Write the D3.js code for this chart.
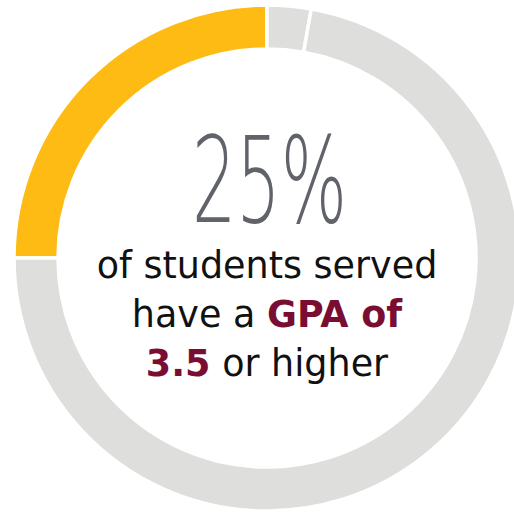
<!DOCTYPE html>
<html>
<head>
<meta charset="utf-8">
<script src="https://cdn.jsdelivr.net/npm/d3@7"></script>
<style>
  body { margin: 0; background: #fff; }
  svg { display: block; }
</style>
</head>
<body>
<svg id="main_svg_container" width="514" height="512"></svg>
<script>
// segments of the ring, clockwise from 9 o'clock
const segment_names = ["GPA 3.5 or higher", "small gap", "rest"];
const segment_values = [25, 2.8, 72.2];
const segment_colors = ["#FDBB14", "#DEDFDD", "#DEDFDD"];

const headline_value = "25%";
const caption_lines = [
  [{ t: "of students served", bold: false }],
  [{ t: "have a ", bold: false }, { t: "GPA of", bold: true }],
  [{ t: "3.5", bold: true }, { t: " or higher", bold: false }]
];

const svg_width = 514, svg_height = 512;
const cx = 267, cy = 258;
const outer_r = 253, inner_r = 209;

const svg = d3.select("#main_svg_container");

const pie = d3.pie()
    .sort(null)
    .value(function(d) { return d; })
    .startAngle(-Math.PI / 2)
    .endAngle(Math.PI * 1.5);

const arc = d3.arc()
    .innerRadius(inner_r)
    .outerRadius(outer_r);

const color = d3.scaleOrdinal()
    .domain(segment_names)
    .range(segment_colors);

const ring = svg.append("g")
    .attr("transform", "translate(" + cx + "," + cy + ")");

ring.selectAll("path")
    .data(pie(segment_values))
    .enter()
    .append("path")
    .attr("d", arc)
    .attr("fill", function(d, i) { return color(segment_names[i]); })
    .attr("stroke", "#fff")
    .attr("stroke-width", 3.5);

// big number
svg.append("text")
    .attr("x", 269.5)
    .attr("y", 222)
    .attr("text-anchor", "middle")
    .attr("font-family", "DejaVu Sans")
    .attr("font-weight", 200)
    .attr("font-size", 119)
    .attr("fill", "#60646A")
    .attr("textLength", 155)
    .attr("lengthAdjust", "spacingAndGlyphs")
    .text(headline_value);

// caption
const baselines = [278, 327, 376];
caption_lines.forEach(function(line, i) {
  const t = svg.append("text")
      .attr("x", 267)
      .attr("y", baselines[i])
      .attr("text-anchor", "middle")
      .attr("font-family", "'DejaVu Sans', sans-serif")
      .attr("font-size", 36.5)
      .attr("fill", "#111");
  line.forEach(function(part) {
    t.append("tspan")
        .attr("font-weight", part.bold ? 700 : 400)
        .attr("fill", part.bold ? "#7A0E32" : "#111")
        .text(part.t);
  });
});
</script>
</body>
</html>
